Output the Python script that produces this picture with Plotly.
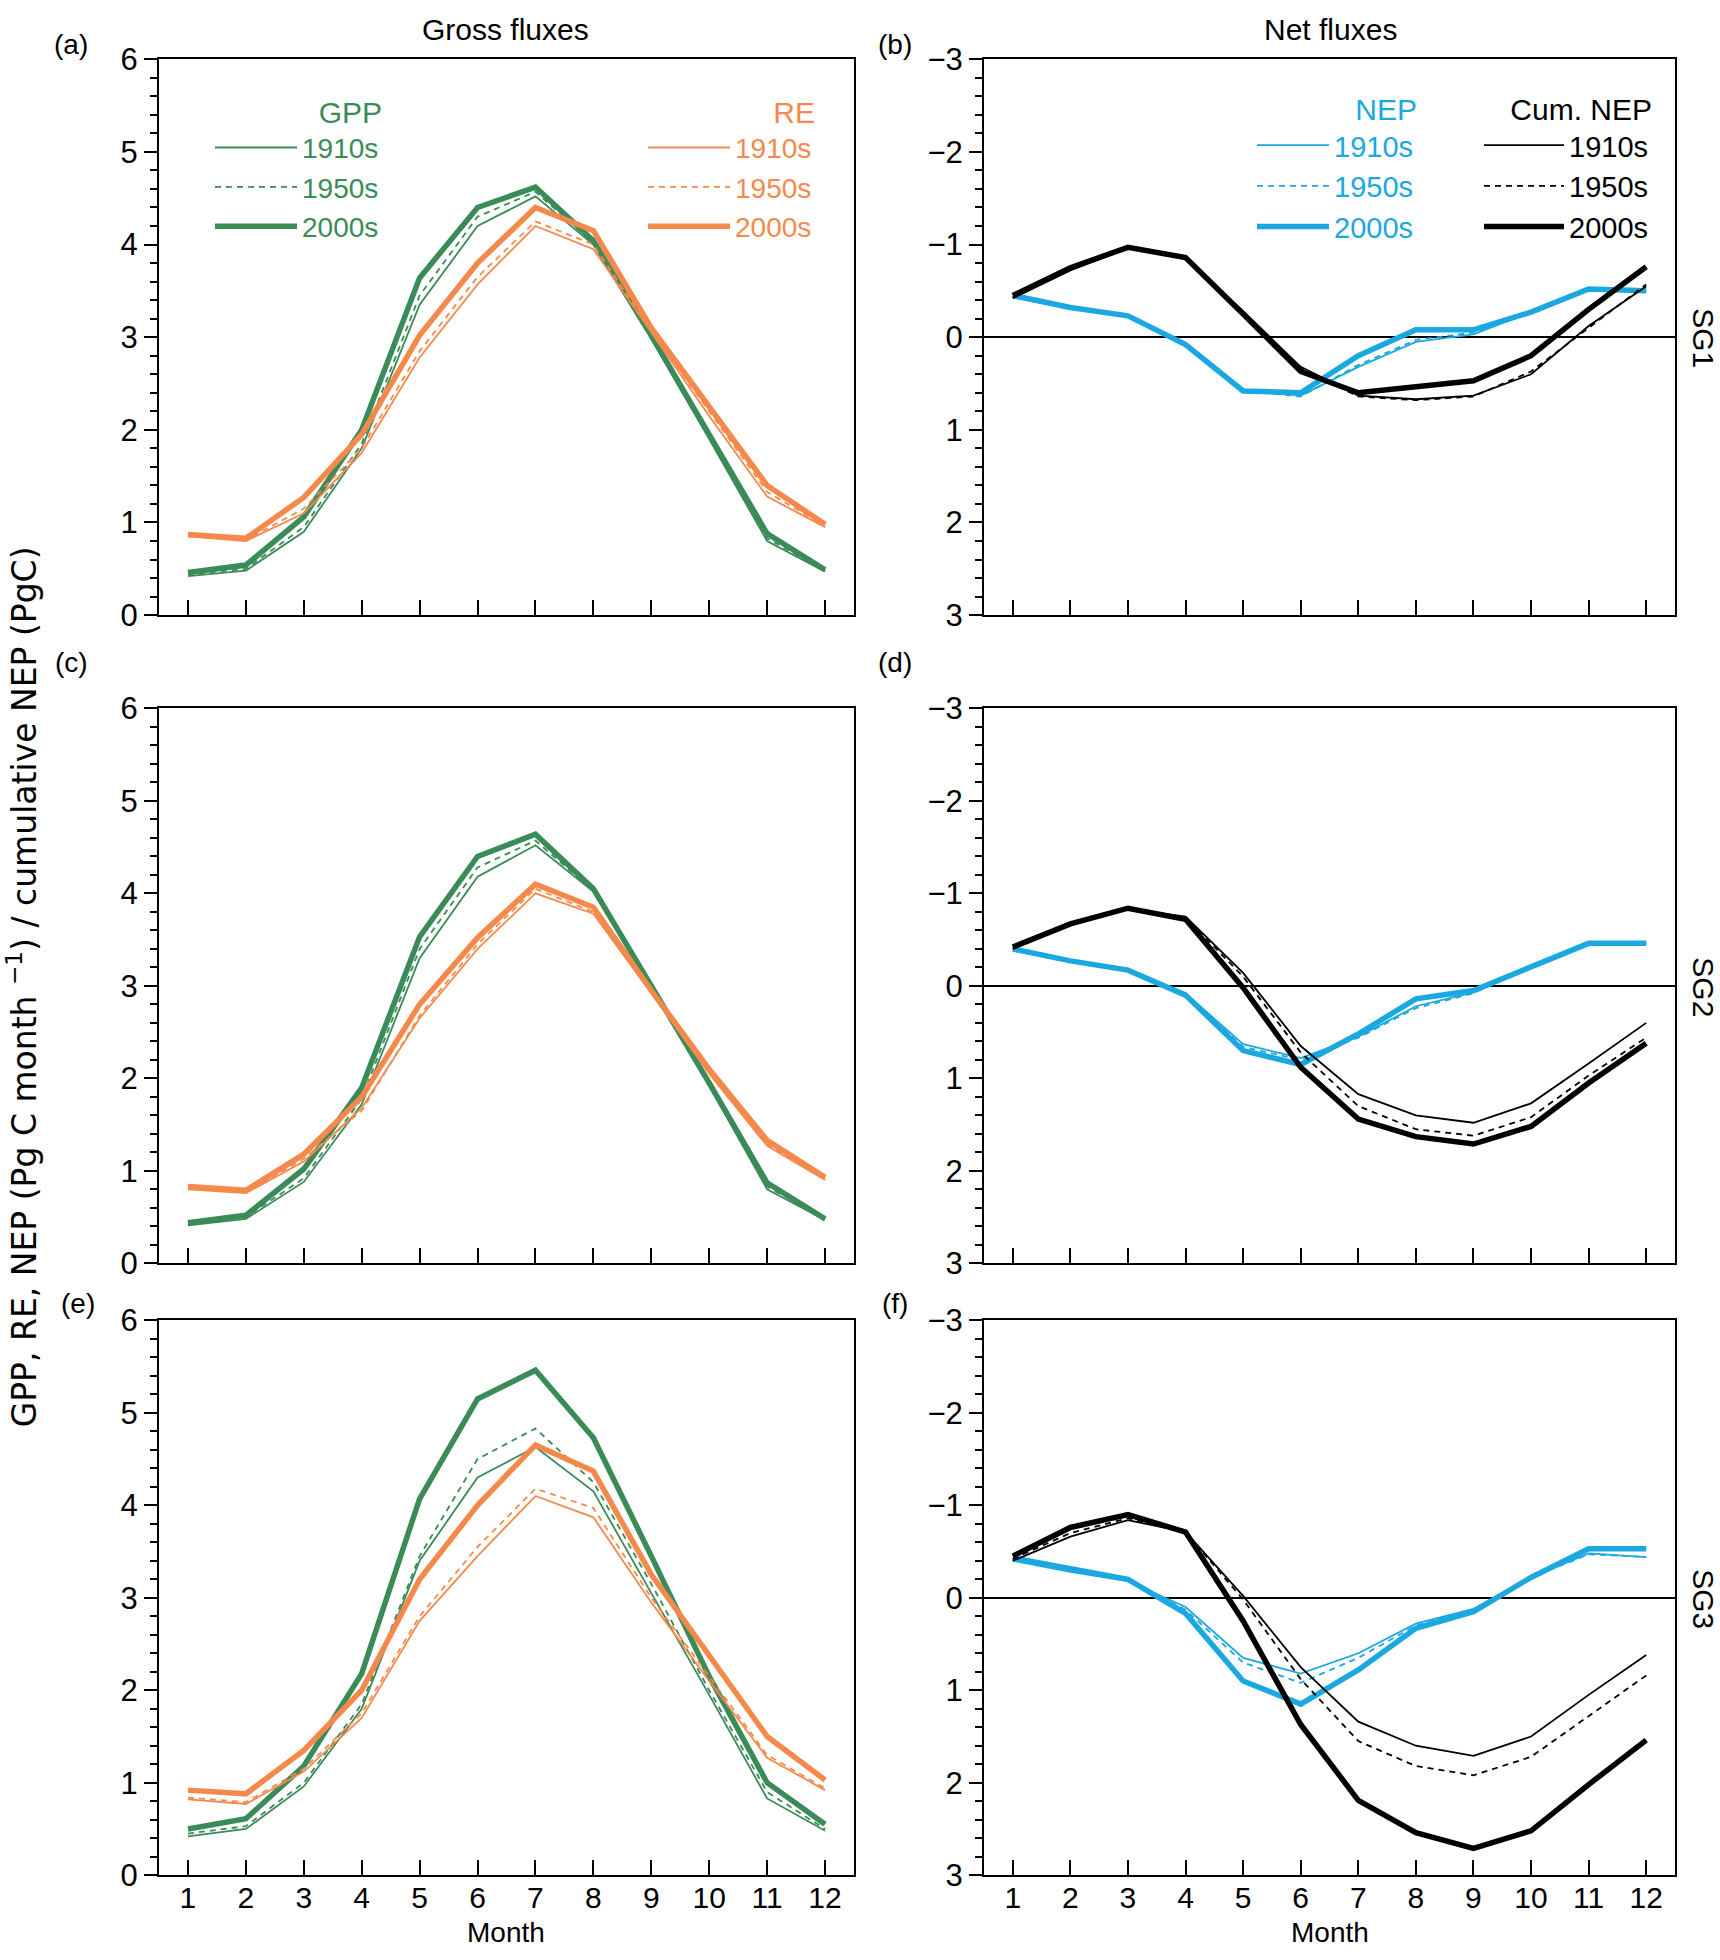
import plotly.graph_objects as go
from plotly.subplots import make_subplots

months = list(range(1, 13))
decades = ["1910s", "1950s", "2000s"]

# ---- SG1 gross fluxes (panel a)
gpp_sg1_1910 = [0.42, 0.48, 0.90, 1.80, 3.35, 4.20, 4.52, 4.00, 2.98, 1.90, 0.80, 0.47]
gpp_sg1_1950 = [0.44, 0.50, 0.95, 1.85, 3.45, 4.30, 4.57, 4.02, 3.00, 1.92, 0.83, 0.48]
gpp_sg1_2000 = [0.46, 0.54, 1.06, 2.00, 3.64, 4.40, 4.62, 4.04, 3.02, 1.95, 0.88, 0.49]
re_sg1_1910 = [0.85, 0.80, 1.10, 1.75, 2.78, 3.57, 4.20, 3.95, 3.05, 2.15, 1.28, 0.95]
re_sg1_1950 = [0.86, 0.81, 1.15, 1.80, 2.85, 3.65, 4.25, 4.00, 3.07, 2.20, 1.33, 0.96]
re_sg1_2000 = [0.87, 0.83, 1.27, 1.95, 3.02, 3.80, 4.40, 4.15, 3.10, 2.25, 1.40, 0.98]

# ---- SG1 net fluxes (panel b)
nep_sg1_1910 = [-0.43, -0.31, -0.22, 0.07, 0.57, 0.63, 0.32, 0.05, -0.03, -0.27, -0.52, -0.50]
nep_sg1_1950 = [-0.44, -0.31, -0.22, 0.07, 0.58, 0.64, 0.30, 0.03, -0.05, -0.27, -0.52, -0.50]
nep_sg1_2000 = [-0.45, -0.32, -0.23, 0.08, 0.58, 0.60, 0.20, -0.08, -0.08, -0.27, -0.52, -0.50]
cum_sg1_1910 = [-0.42, -0.72, -0.96, -0.86, -0.28, 0.32, 0.63, 0.67, 0.63, 0.40, -0.12, -0.55]
cum_sg1_1950 = [-0.43, -0.73, -0.96, -0.86, -0.27, 0.34, 0.64, 0.68, 0.64, 0.37, -0.10, -0.57]
cum_sg1_2000 = [-0.45, -0.75, -0.97, -0.86, -0.25, 0.37, 0.60, 0.53, 0.47, 0.20, -0.30, -0.76]

# ---- SG2 gross fluxes (panel c)
gpp_sg2_1910 = [0.41, 0.48, 0.88, 1.72, 3.30, 4.18, 4.52, 4.02, 2.98, 1.92, 0.80, 0.47]
gpp_sg2_1950 = [0.42, 0.50, 0.92, 1.78, 3.40, 4.28, 4.57, 4.03, 2.99, 1.93, 0.83, 0.48]
gpp_sg2_2000 = [0.44, 0.52, 1.02, 1.90, 3.53, 4.40, 4.64, 4.05, 3.00, 1.95, 0.87, 0.48]
re_sg2_1910 = [0.80, 0.76, 1.10, 1.68, 2.65, 3.40, 4.00, 3.78, 2.92, 2.05, 1.27, 0.90]
re_sg2_1950 = [0.81, 0.77, 1.13, 1.65, 2.68, 3.45, 4.05, 3.80, 2.93, 2.07, 1.29, 0.91]
re_sg2_2000 = [0.83, 0.79, 1.18, 1.80, 2.80, 3.52, 4.10, 3.85, 2.95, 2.10, 1.33, 0.93]

# ---- SG2 net fluxes (panel d)
nep_sg2_1910 = [-0.38, -0.26, -0.17, 0.08, 0.63, 0.78, 0.55, 0.22, 0.07, -0.21, -0.46, -0.46]
nep_sg2_1950 = [-0.39, -0.26, -0.17, 0.09, 0.66, 0.80, 0.56, 0.24, 0.08, -0.21, -0.46, -0.46]
nep_sg2_2000 = [-0.40, -0.27, -0.17, 0.10, 0.70, 0.85, 0.52, 0.14, 0.05, -0.21, -0.46, -0.46]
cum_sg2_1910 = [-0.40, -0.66, -0.83, -0.75, -0.14, 0.65, 1.17, 1.40, 1.48, 1.27, 0.84, 0.40]
cum_sg2_1950 = [-0.41, -0.66, -0.83, -0.74, -0.10, 0.72, 1.30, 1.55, 1.62, 1.42, 0.97, 0.56]
cum_sg2_2000 = [-0.42, -0.67, -0.84, -0.72, 0.02, 0.88, 1.44, 1.63, 1.71, 1.52, 1.05, 0.62]

# ---- SG3 gross fluxes (panel e)
gpp_sg3_1910 = [0.42, 0.50, 0.96, 1.80, 3.40, 4.30, 4.63, 4.15, 3.05, 1.95, 0.83, 0.48]
gpp_sg3_1950 = [0.45, 0.53, 1.00, 1.85, 3.45, 4.50, 4.83, 4.25, 3.15, 2.00, 0.90, 0.50]
gpp_sg3_2000 = [0.50, 0.61, 1.18, 2.18, 4.07, 5.15, 5.46, 4.73, 3.45, 2.15, 1.00, 0.55]
re_sg3_1910 = [0.82, 0.77, 1.12, 1.70, 2.75, 3.45, 4.10, 3.87, 2.95, 2.10, 1.27, 0.92]
re_sg3_1950 = [0.84, 0.79, 1.15, 1.75, 2.80, 3.55, 4.18, 3.97, 3.00, 2.15, 1.30, 0.94]
re_sg3_2000 = [0.92, 0.88, 1.35, 2.00, 3.20, 4.00, 4.65, 4.37, 3.25, 2.38, 1.50, 1.03]

# ---- SG3 net fluxes (panel f)
nep_sg3_1910 = [-0.40, -0.28, -0.18, 0.10, 0.65, 0.82, 0.60, 0.28, 0.12, -0.22, -0.48, -0.44]
nep_sg3_1950 = [-0.41, -0.29, -0.19, 0.13, 0.70, 0.92, 0.65, 0.30, 0.13, -0.22, -0.47, -0.44]
nep_sg3_2000 = [-0.43, -0.32, -0.20, 0.17, 0.90, 1.15, 0.78, 0.33, 0.15, -0.22, -0.53, -0.53]
cum_sg3_1910 = [-0.40, -0.66, -0.84, -0.71, -0.02, 0.75, 1.34, 1.60, 1.71, 1.50, 1.05, 0.62]
cum_sg3_1950 = [-0.42, -0.70, -0.86, -0.71, 0.02, 0.88, 1.55, 1.82, 1.92, 1.72, 1.28, 0.84]
cum_sg3_2000 = [-0.45, -0.76, -0.90, -0.71, 0.25, 1.37, 2.19, 2.54, 2.71, 2.52, 2.02, 1.54]

GREEN = "#3a8b57"
ORANGE = "#f5894c"
BLUE = "#1ba8e0"
BLACK = "#000000"

NARROW = "Liberation Sans Narrow, Arial Narrow, Liberation Sans, sans-serif"
SANS = "Liberation Sans, Arial, sans-serif"

line_style = {
    "1910s": dict(width=1.8, dash="solid"),
    "1950s": dict(width=1.8, dash="6px,5px"),
    "2000s": dict(width=5.5, dash="solid"),
}

gross = [
    ([gpp_sg1_1910, gpp_sg1_1950, gpp_sg1_2000], [re_sg1_1910, re_sg1_1950, re_sg1_2000]),
    ([gpp_sg2_1910, gpp_sg2_1950, gpp_sg2_2000], [re_sg2_1910, re_sg2_1950, re_sg2_2000]),
    ([gpp_sg3_1910, gpp_sg3_1950, gpp_sg3_2000], [re_sg3_1910, re_sg3_1950, re_sg3_2000]),
]
net = [
    ([nep_sg1_1910, nep_sg1_1950, nep_sg1_2000], [cum_sg1_1910, cum_sg1_1950, cum_sg1_2000]),
    ([nep_sg2_1910, nep_sg2_1950, nep_sg2_2000], [cum_sg2_1910, cum_sg2_1950, cum_sg2_2000]),
    ([nep_sg3_1910, nep_sg3_1950, nep_sg3_2000], [cum_sg3_1910, cum_sg3_1950, cum_sg3_2000]),
]

fig = make_subplots(rows=3, cols=2)

# pixel boxes of the six panels (page is photographed slightly squeezed vertically)
W, H = 1720, 1960
x_dom = [(159, 854), (984, 1675)]
y_dom = [(43, 609), (704, 1269), (1327, 1892)]


def add_group(series, color, row, col, legend, first):
    for dec, vals in zip(decades, series):
        fig.add_trace(
            go.Scatter(
                x=months, y=vals, mode="lines", name=dec,
                line=dict(color=color, **line_style[dec]),
                legend=legend, showlegend=first,
            ),
            row=row, col=col,
        )


for i in range(3):
    first = i == 0
    add_group(gross[i][0], GREEN, i + 1, 1, "legend", first)
    add_group(gross[i][1], ORANGE, i + 1, 1, "legend2", first)
    add_group(net[i][0], BLUE, i + 1, 2, "legend3", first)
    add_group(net[i][1], BLACK, i + 1, 2, "legend4", first)

for r in range(3):
    for c in range(2):
        fig.update_xaxes(
            domain=[x_dom[c][0] / W, x_dom[c][1] / W],
            range=[0.5, 12.5], tickvals=months,
            showticklabels=(r == 2), ticklabelstandoff=-5,
            ticks="inside", ticklen=15, tickwidth=2, tickcolor="black",
            showline=True, linewidth=2, linecolor="black", mirror=True,
            showgrid=False, zeroline=False,
            tickfont=dict(family=NARROW, size=30, color="black"),
            row=r + 1, col=c + 1,
        )
        yaxis = dict(
            domain=[1 - y_dom[r][1] / H, 1 - y_dom[r][0] / H],
            ticks="outside", ticklen=13, tickwidth=2, tickcolor="black",
            minor=dict(dtick=0.2, ticks="outside", ticklen=7, tickwidth=1.5,
                       tickcolor="black", showgrid=False),
            showline=True, linewidth=2, linecolor="black", mirror=True,
            showgrid=False,
            tickfont=dict(family=NARROW, size=31, color="black"),
        )
        if c == 0:
            yaxis.update(range=[0, 6], dtick=1, zeroline=False)
        else:
            yaxis.update(range=[3, -3], dtick=1, zeroline=True,
                         zerolinecolor="black", zerolinewidth=1.5)
        fig.update_yaxes(row=r + 1, col=c + 1, **yaxis)


def legend_box(title, x, y, color, width, size):
    return dict(
        x=x / W, y=1 - y / H, xanchor="left", yanchor="top",
        bgcolor="rgba(0,0,0,0)", borderwidth=0,
        font=dict(family=SANS, size=size, color=color),
        title=dict(text=title, font=dict(family=SANS, size=30, color=color),
                   side="top right"),
        tracegroupgap=0, itemwidth=width,
    )


leg1 = legend_box("GPP", 210, 68, GREEN, 82, 28)
leg2 = legend_box("RE", 643, 68, ORANGE, 82, 28)
leg3 = legend_box("NEP", 1252, 65, BLUE, 72, 29)
leg4 = legend_box("Cum. NEP", 1479, 65, BLACK, 80, 29)

annotations = []


def note(text, x, y, size=30, family=NARROW, angle=0):
    annotations.append(dict(
        text=text, x=x / W, y=1 - y / H, xref="paper", yref="paper",
        showarrow=False, xanchor="center", yanchor="middle", textangle=angle,
        borderpad=0, font=dict(family=family, size=size, color="black"),
    ))


note("Gross fluxes", 506, 13)
note("Net fluxes", 1330, 13)
for lab, x, y in [("(a)", 71, 28), ("(b)", 895, 28), ("(c)", 71, 657),
                  ("(d)", 895, 657), ("(e)", 78, 1310), ("(f)", 895, 1310)]:
    note(lab, x, y, size=28)
for lab, y in [("SG1", 327), ("SG2", 988), ("SG3", 1611)]:
    note(lab, 1704, y, family=SANS, size=30, angle=90)
note("Month", 506, 1950, size=28)
note("Month", 1330, 1950, size=28)
note("GPP, RE, NEP (Pg C month <sup>\u22121</sup>) / cumulative NEP (PgC)",
     22, 988, family="DejaVu Sans, sans-serif", size=33, angle=-90)

fig.update_layout(
    width=W, height=H,
    margin=dict(l=0, r=0, t=0, b=0),
    plot_bgcolor="white", paper_bgcolor="white",
    legend=leg1, legend2=leg2, legend3=leg3, legend4=leg4,
    annotations=annotations,
)

pin_top_left = (
    "var gd = document.getElementById('{plot_id}');"
    "gd.style.position = 'absolute'; gd.style.top = '0px'; gd.style.left = '0px';"
    "document.body.style.margin = '0'; document.body.style.overflow = 'hidden';"
)

fig.write_html("out.html", config={"displayModeBar": False}, post_script=pin_top_left)
